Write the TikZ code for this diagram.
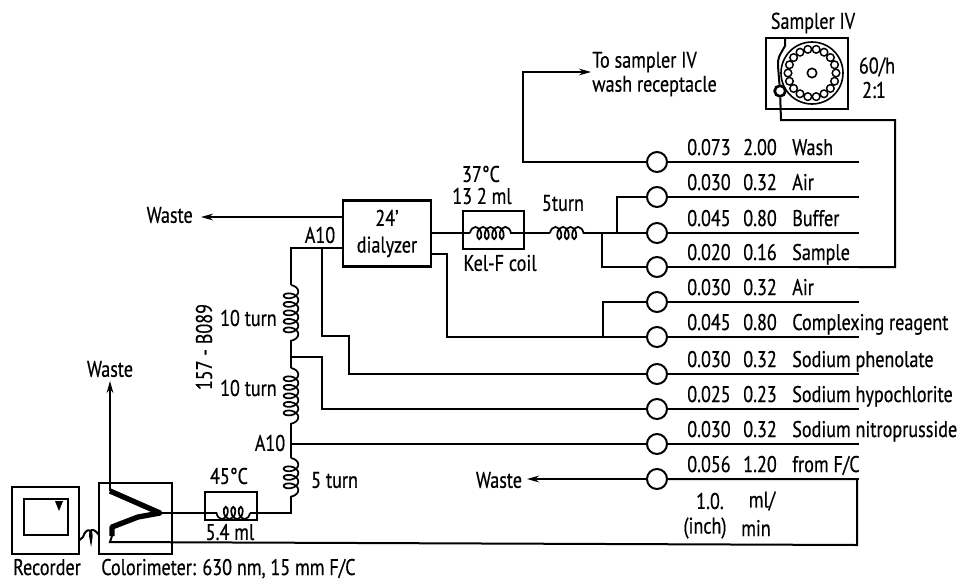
\documentclass[tikz,border=0pt]{standalone}
\usepackage{fontspec}
\setmainfont[FakeStretch=0.8,FakeBold=0.5]{PT Sans}
\usetikzlibrary{decorations.pathmorphing,arrows.meta}
\tikzset{
  pipe/.style={line width=1.5pt,line join=miter},
  pump/.style={circle,draw,line width=1.5pt,fill=white,inner sep=0pt,minimum size=15pt},
  lab/.style={inner sep=0pt,font=\fontsize{17}{20}\selectfont},
  thinbox/.style={draw,line width=1.2pt,inner sep=0pt},
  vcoil/.style={line width=1.3pt,decorate,decoration={coil,aspect=0.6,segment length=6.4pt,amplitude=5.5pt}},
  hcoil/.style={line width=1.3pt,decorate,decoration={coil,aspect=0.6,segment length=5.6pt,amplitude=4.6pt}}
}
\begin{document}
\begin{tikzpicture}[x=0.75pt,y=-0.75pt,>={Stealth[length=9pt,width=5pt]}]
    \useasboundingbox (0,0) rectangle (978,582);
    % pump tubes and their rows
    \foreach \tube/\yy/\rate/\bore/\what in {
      wash/162/0.073/2.00/Wash,
      airone/197/0.030/0.32/Air,
      buffer/233/0.045/0.80/Buffer,
      sample/267/0.020/0.16/Sample,
      airtwo/302/0.030/0.32/Air,
      complexing/337/0.045/0.80/Complexing reagent,
      phenolate/374/0.030/0.32/Sodium phenolate,
      hypochlorite/409/0.025/0.23/Sodium hypochlorite,
      nitroprusside/444/0.030/0.32/Sodium nitroprusside,
      fromfc/479/0.056/1.20/{from F/C}}{
      \node[pump] (\tube) at (657,\yy) {};
      \coordinate (end\tube) at (859,\yy);
      \draw[pipe] (\tube) -- (end\tube);
      \node[lab,anchor=base west] (rate\tube) at (687,\yy-7) {\rate};
      \node[lab,anchor=base west] (bore\tube) at (743,\yy-7) {\bore};
      \node[lab,anchor=base west] (what\tube) at (792,\yy-7) {\what};
    }
    % sampler
    \node[thinbox,minimum width=61.5pt,minimum height=53pt] (sampler) at (807,73.5) {};
    \node[lab] (samplertitle) at (813,23) {Sampler IV};
    \node[lab] (samplerrate) at (877,67) {60/h};
    \node[lab] (samplerratio) at (874,90) {2:1};
    \node[circle,draw,line width=1.2pt,minimum size=46.5pt,inner sep=0pt] (wheel) at (812,73) {};
    \node[circle,draw,line width=1.2pt,minimum size=7pt,inner sep=0pt] (hub) at (812,73) {};
    \foreach \a in {0,20,...,340}
      \draw[line width=1.1pt] (812,73) ++(\a:24) circle (3.8);
    \node[circle,draw,line width=2pt,minimum size=8pt,inner sep=0pt] (probe) at (780,91) {};
    \coordinate (probetop) at (785,38);
    \draw[pipe] (probetop) -- (785,46) .. controls (778,58) .. (778,66) -- (probe);
    \coordinate (samplecorner) at (895,120);
    \draw[pipe] (endsample) -- (895,267) -- (samplecorner) -- (781,120) -- (probe);
    % wash receptacle
    \node[lab,anchor=west] (washline) at (592,62) {To sampler IV};
    \node[lab,anchor=west] (washlinetwo) at (592,86) {wash receptacle};
    \coordinate (washtip) at (591,72);
    \draw[pipe,->] (wash) -- (523,162) -- (523,72) -- (washtip);
    % dialyzer
    \node[draw,line width=2.1pt,minimum width=66pt,minimum height=50pt,inner sep=0pt,
      lab,align=center] (dialyzer) at (387,233.5) {24'\\dialyzer};
    \node[lab,anchor=east] (wasteupper) at (193,215) {Waste};
    \coordinate (wasteuppertip) at (201,217);
    \draw[pipe,->] (dialyzer.west |- wasteuppertip) -- (wasteuppertip);
    \node[lab] (aten) at (320,235) {A10};
    % kel-f bath
    \node[thinbox,minimum width=46pt,minimum height=28.5pt] (bath) at (493.5,230) {};
    \node[lab] (bathtemp) at (481,174) {37°C};
    \node[lab] (bathvol) at (482,196) {13 2 ml};
    \node[lab] (bathname) at (500,263) {Kel-F coil};
    \coordinate (bathin) at (470,233);
    \coordinate (bathout) at (515,233);
    \draw[pipe] (dialyzer.east |- bathin) -- (bathin);
    \draw[hcoil] (bathin) -- (bathout);
    \coordinate (fiveleft) at (550,233);
    \coordinate (fiveright) at (587,233);
    \node[lab] (fivelabel) at (563,203) {5turn};
    \draw[pipe] (bathout) -- (fiveleft);
    \draw[hcoil] (fiveleft) -- (fiveright);
    \coordinate (bufferjoin) at (602,233);
    \draw[pipe] (fiveright) -- (buffer);
    \draw[pipe] (airone) -- (617,197) -- (617,233);
    \draw[pipe] (bufferjoin) -- (602,267) -- (sample);
    % complexing line
    \coordinate (dialyzerout) at (447,254);
    \draw[pipe] (dialyzer.east |- dialyzerout) -- (dialyzerout) -- (447,337) -- (complexing);
    \draw[pipe] (airtwo) -- (603,302) -- (603,337);
    % mixing coils
    \coordinate (coiloneup) at (291,285);
    \coordinate (coilonedown) at (291,345);
    \coordinate (coiltwoup) at (291,368);
    \coordinate (coiltwodown) at (291,427);
    \coordinate (coilthreeup) at (291,458);
    \coordinate (coilthreedown) at (291,497);
    \coordinate (dialyzerin) at (291,248);
    \draw[pipe] (dialyzer.west |- dialyzerin) -- (dialyzerin) -- (coiloneup);
    \draw[vcoil] (coiloneup) -- (coilonedown);
    \draw[pipe] (coilonedown) -- (coiltwoup);
    \draw[vcoil] (coiltwoup) -- (coiltwodown);
    \draw[pipe] (coiltwodown) -- (coilthreeup);
    \draw[vcoil] (coilthreeup) -- (coilthreedown);
    \draw[pipe] (322,248) -- (322,336) -- (349,336) -- (349,374) -- (phenolate);
    \draw[pipe] (291,357) -- (322,357) -- (322,409) -- (hypochlorite);
    \draw[pipe] (291,444) -- (nitroprusside);
    \node[lab,anchor=east] (tenone) at (277,318) {10 turn};
    \node[lab,anchor=east] (tentwo) at (277,388) {10 turn};
    \node[lab,anchor=west] (fiveturn) at (311,480) {5 turn};
    \node[lab] (atentwo) at (270,443) {A10};
    \node[lab,rotate=90] (cartridge) at (204,347) {157 - B089};
    % colorimeter and recorder
    \node[thinbox,minimum width=55pt,minimum height=53.5pt] (colorimeter) at (135.5,518.5) {};
    \node[thinbox,minimum width=50pt,minimum height=50pt] (recorder) at (45.5,520.5) {};
    \node[thinbox,minimum width=33pt,minimum height=27pt] (screen) at (46,517) {};
    \fill (55,501) -- (63,501) -- (59,511) -- cycle;
    \node[lab,anchor=base] (recordername) at (47,575) {Recorder};
    \node[lab,anchor=base west] (colorimetername) at (101,575) {Colorimeter: 630 nm, 15 mm F/C};
    \coordinate (flowtop) at (110,491);
    \coordinate (flowcell) at (160,513);
    \coordinate (flowlow) at (112,536);
    \draw[line width=4pt,line join=round] (flowtop) -- (flowcell) -- (138,517) -- (112,527) -- (flowlow);
    \node[lab] (wastelower) at (110,369) {Waste};
    \coordinate (wasteuptip) at (110,381);
    \draw[pipe,->] (flowtop) -- (wasteuptip);
    % flow cell bath
    \node[thinbox,minimum width=39pt,minimum height=21pt] (heater) at (231,506) {};
    \node[lab] (heatertemp) at (229,476) {45°C};
    \node[lab] (heatervol) at (230,532) {5.4 ml};
    \coordinate (heaterin) at (250,513);
    \coordinate (heaterout) at (215,513);
    \draw[pipe] (coilthreedown) -- (291,513) -- (heaterin);
    \draw[hcoil] (heaterin) -- (heaterout);
    \draw[pipe] (heaterout) -- (flowcell);
    \coordinate (flowback) at (110,542);
    \draw[pipe] (flowlow) -- (flowback) -- (857,545) -- (857,479) -- (fromfc);
    \draw[pipe] (recorder.east |- 0,540) -- (83,537) .. controls (86,527) and (94,528) .. (91,541) .. controls (88,528) and (93,527) .. (99,535);
    % labels under the pump
    \coordinate (wastelowtip) at (527,479);
    \node[lab] (wastethree) at (499,480) {Waste};
    \draw[pipe,->] (fromfc) -- (wastelowtip);
    \node[lab] (inchone) at (710,501) {1.0.};
    \node[lab] (inchtwo) at (705,528) {(inch)};
    \node[lab] (mlone) at (762,501) {ml/};
    \node[lab] (mltwo) at (756,528) {min};
  \end{tikzpicture}
\end{document}
